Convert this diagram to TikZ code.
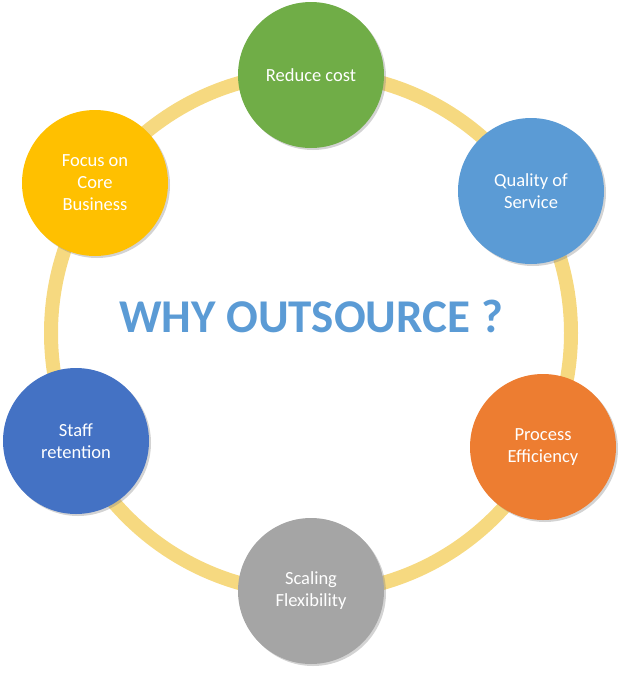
\documentclass[tikz,border=0pt]{standalone}
\usepackage{fontspec}
\setmainfont{Carlito}
\usetikzlibrary{shadows}
\definecolor{ringyellow}{RGB}{246,217,128}
\definecolor{offgreen}{RGB}{112,173,71}
\definecolor{offblue}{RGB}{91,155,213}
\definecolor{offorange}{RGB}{237,125,49}
\definecolor{offgray}{RGB}{165,165,165}
\definecolor{offnavy}{RGB}{68,114,196}
\definecolor{offgold}{RGB}{255,192,0}
\tikzstyle{ring} = [line width=14pt, draw=ringyellow]
\tikzstyle{reason} = [circle, minimum size=146pt, inner sep=0pt, text=white, align=center, font=\fontsize{18.5}{22}\selectfont, drop shadow={opacity=0.35, shadow xshift=2pt, shadow yshift=-2pt}]
\tikzstyle{headline} = [text=offblue, font=\fontsize{47}{55}\selectfont\bfseries]

\begin{document}
\begin{tikzpicture}[x=1pt, y=-1pt]
		\useasboundingbox (0,0) rectangle (624,673);
		\coordinate (centre) at (311,333);
		\draw [ring] (centre) circle (260pt);
		\node (title) [headline] at (311,316) {WHY OUTSOURCE ?};
		\node (cost) [reason, fill=offgreen] at (311,75) {Reduce cost};
		\node (quality) [reason, fill=offblue] at (531,191) {Quality of\\Service};
		\node (process) [reason, fill=offorange] at (543,447) {Process\\Efficiency};
		\node (scaling) [reason, fill=offgray] at (311,591) {Scaling\\Flexibility};
		\node (staff) [reason, fill=offnavy] at (76,441) {Staff\\retention};
		\node (focus) [reason, fill=offgold] at (95,183) {Focus on\\Core\\Business};
	\end{tikzpicture}
\end{document}
